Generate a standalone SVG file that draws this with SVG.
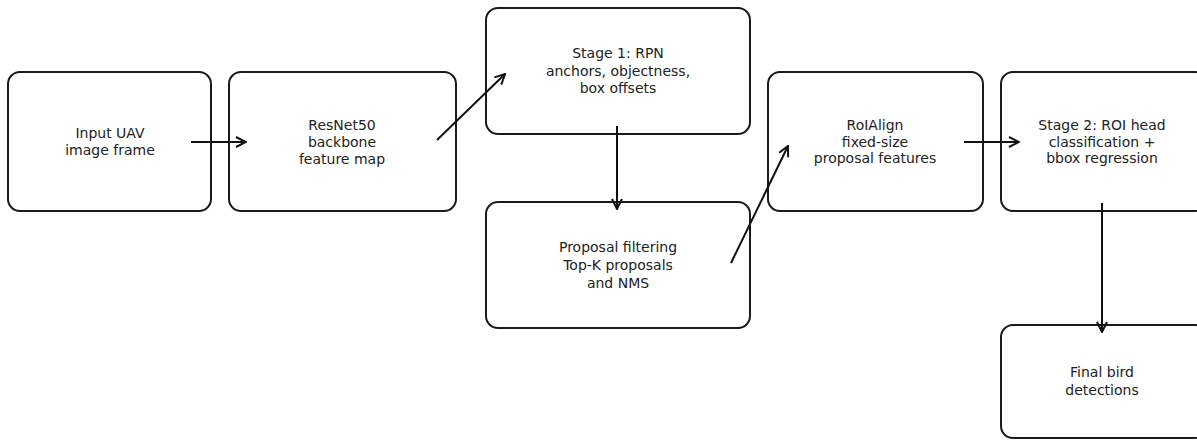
<svg xmlns="http://www.w3.org/2000/svg" width="1197" height="441" viewBox="0 0 1197 441">
<defs>
<marker id="arr" viewBox="0 0 12 12" refX="11" refY="6" markerWidth="12" markerHeight="12" markerUnits="userSpaceOnUse" orient="auto">
<path d="M1,1 L11,6 L1,11" fill="none" stroke="#111" stroke-width="2"/>
</marker>
<style>
.box{fill:#fff;stroke:#1a1a1a;stroke-width:2}
.t{font-family:"DejaVu Sans",sans-serif;font-size:14px;fill:#222;text-anchor:middle}
.c{stroke:#111;stroke-width:2;fill:none;marker-end:url(#arr)}
</style>
</defs>
<rect width="1197" height="441" fill="#fff"/>
<g id="n1"><rect class="box" x="8" y="72" width="203" height="139" rx="12"/>
<text class="t" x="110" y="138">Input UAV</text><text class="t" x="110" y="155">image frame</text></g>
<g id="n2"><rect class="box" x="229" y="72" width="227" height="139" rx="12"/>
<text class="t" x="342" y="130">ResNet50</text><text class="t" x="342" y="147">backbone</text><text class="t" x="342" y="164">feature map</text></g>
<g id="n3"><rect class="box" x="486" y="8" width="264" height="126" rx="12"/>
<text class="t" x="618" y="58">Stage 1: RPN</text><text class="t" x="618" y="76">anchors, objectness,</text><text class="t" x="618" y="93">box offsets</text></g>
<g id="n4"><rect class="box" x="486" y="202" width="264" height="126" rx="12"/>
<text class="t" x="618" y="252">Proposal filtering</text><text class="t" x="618" y="270">Top-K proposals</text><text class="t" x="618" y="288">and NMS</text></g>
<g id="n5"><rect class="box" x="768" y="72" width="215" height="139" rx="12"/>
<text class="t" x="875" y="130">RoIAlign</text><text class="t" x="875" y="147">fixed-size</text><text class="t" x="875" y="163">proposal features</text></g>
<g id="n6"><rect class="box" x="1001" y="72" width="206" height="139" rx="12"/>
<text class="t" x="1102" y="130">Stage 2: ROI head</text><text class="t" x="1102" y="147">classification +</text><text class="t" x="1102" y="163">bbox regression</text></g>
<g id="n7"><rect class="box" x="1001" y="325" width="206" height="113" rx="12"/>
<text class="t" x="1102" y="377">Final bird</text><text class="t" x="1102" y="395">detections</text></g>
<g id="connectors">
<line class="c" x1="191" y1="142" x2="246" y2="142"/>
<line class="c" x1="437" y1="140" x2="505" y2="74"/>
<line class="c" x1="617" y1="126" x2="617" y2="209"/>
<line class="c" x1="731" y1="263" x2="788" y2="146"/>
<line class="c" x1="964" y1="142" x2="1019" y2="142"/>
<line class="c" x1="1102" y1="203" x2="1102" y2="332"/>
</g>
</svg>
